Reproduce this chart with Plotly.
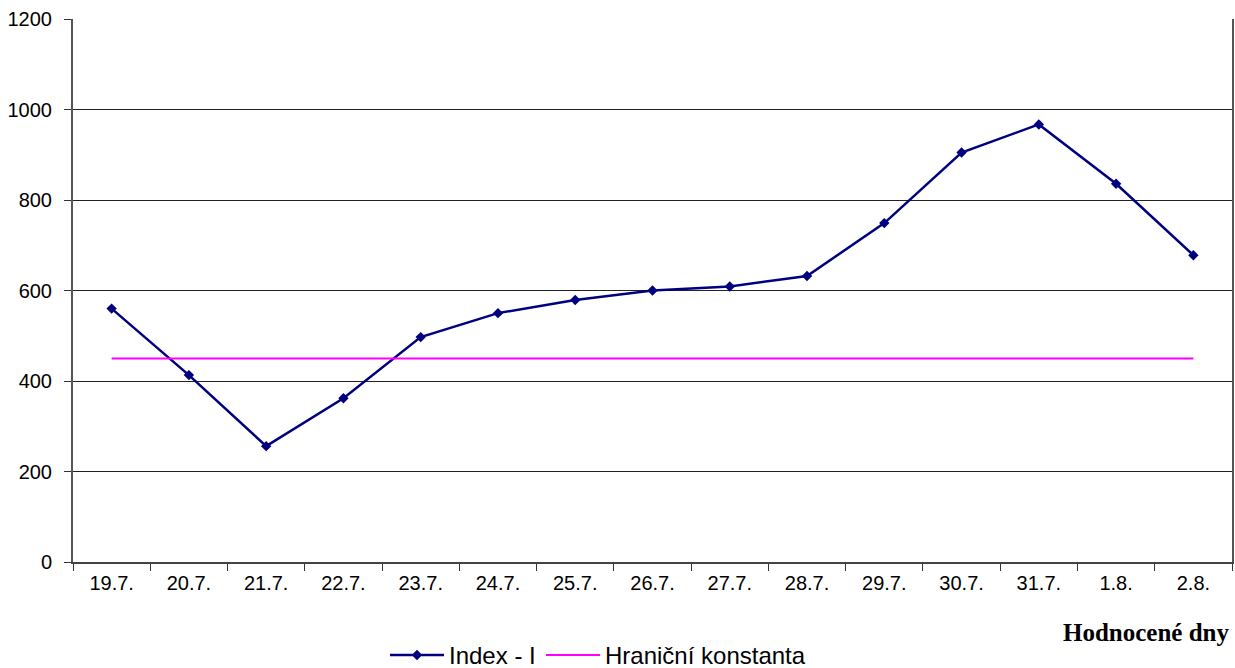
import plotly.graph_objects as go

days = ["19.7.", "20.7.", "21.7.", "22.7.", "23.7.", "24.7.", "25.7.", "26.7.",
        "27.7.", "28.7.", "29.7.", "30.7.", "31.7.", "1.8.", "2.8."]
index_i = [560, 413, 256, 362, 497, 550, 579, 600, 609, 632, 749, 905, 967, 836, 678]
hranicni = [450] * len(days)
y_ticks = [0, 200, 400, 600, 800, 1000, 1200]

fig = go.Figure()
fig.add_trace(go.Scatter(
    x=days, y=index_i, mode="lines+markers", name="Index - I",
    line=dict(color="#000080", width=2.5),
    marker=dict(symbol="diamond", size=8, color="#000080"),
    legend="legend",
))
fig.add_trace(go.Scatter(
    x=days, y=hranicni, mode="lines", name="Hraniční konstanta",
    line=dict(color="#FF00FF", width=2),
    legend="legend2",
))

leg_common = dict(orientation="h", yanchor="middle", y=-0.172, xanchor="left",
                  font=dict(size=24), itemwidth=54, bgcolor="rgba(0,0,0,0)")

fig.update_layout(
    width=1235, height=668,
    margin=dict(l=73, r=3, t=19, b=106, autoexpand=False),
    paper_bgcolor="white", plot_bgcolor="white",
    font=dict(family="Liberation Sans, Arial, sans-serif", size=20, color="black"),
    showlegend=True,
    legend=dict(x=(385 - 73) / 1159, **leg_common),
    legend2=dict(x=(541 - 73) / 1159, **leg_common),
    xaxis=dict(
        type="category", tickson="boundaries", ticks="outside", ticklen=7,
        tickcolor="#333333", showline=True, linecolor="#444444", linewidth=2,
        showgrid=False, tickfont=dict(size=20), range=[-0.5, 14.5],
        ticklabelstandoff=2,
    ),
    yaxis=dict(
        range=[0, 1200], tickvals=y_ticks, ticks="outside", ticklen=7,
        tickcolor="#333333", showline=True, linecolor="#555555", linewidth=2,
        mirror=True, showgrid=True, gridcolor="#222222", gridwidth=1,
        tickfont=dict(size=20), zeroline=False, ticklabelstandoff=8,
    ),
    annotations=[dict(
        text="<b>Hodnocené dny</b>", xref="paper", yref="paper", x=1, y=-0.129,
        xanchor="right", yanchor="middle", showarrow=False,
        font=dict(family="Liberation Serif, Times New Roman, serif", size=25, color="black"),
    )],
)

fig.write_html("out.html", config={"displayModeBar": False},
               post_script="document.body.style.margin='0';document.body.style.overflow='hidden';")
